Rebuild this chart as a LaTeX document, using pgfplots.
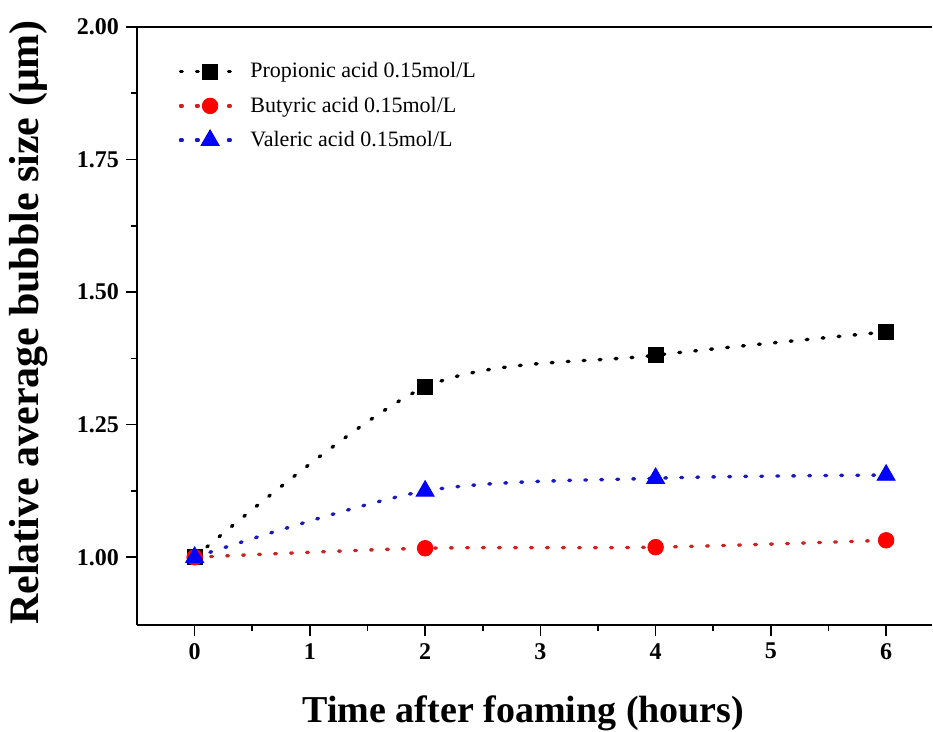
\documentclass[border=0pt]{standalone}
\usepackage{pgfplots}
\pgfplotsset{compat=1.18}
\usepackage{fontspec}
\setmainfont{Liberation Serif}

\definecolor{cred}{RGB}{255,0,0}
\definecolor{credline}{RGB}{205,35,35}
\definecolor{cblue}{RGB}{0,0,255}
\definecolor{cblueline}{RGB}{25,25,190}

% relative average bubble size vs. time after foaming
\pgfplotstableread{
t   s
0   1.000
2   1.321
4   1.381
6   1.425
}\propionic
\pgfplotstableread{
t   s
0   1.000
2   1.017
4   1.019
6   1.032
}\butyric
\pgfplotstableread{
t   s
0   1.000
2   1.125
4   1.149
6   1.155
}\valeric

\begin{document}
\begin{tikzpicture}
\begin{axis}[
  scale only axis,
  width=397.5pt, height=299pt,
  xmin=-0.5, xmax=6.4,
  ymin=0.872, ymax=2.0,
  axis x line=box, axis y line=left,
  x axis line style={-}, y axis line style={-},
  axis line style={line width=0.8pt},
  xtick={0,1,2,3,4,5,6}, minor x tick num=1,
  ytick={1,1.25,1.5,1.75,2}, minor y tick num=1,
  xtick pos=bottom, ytick pos=left,
  tick align=outside,
  major tick length=5.5pt, minor tick length=3pt,
  tick style={line width=0.8pt, black},
  /pgf/number format/assume math mode=true,
  ticklabel style={font=\bfseries\fontsize{12}{14}\selectfont},
  yticklabel style={/pgf/number format/.cd, fixed, fixed zerofill, precision=2},
  xlabel={Time after foaming (hours)},
  ylabel={Relative average bubble size (μm)},
  xlabel style={font=\bfseries\fontsize{19}{22}\selectfont, inner sep=0pt,
    at={(axis description cs:0.486,-0.163)}, anchor=base},
  ylabel style={font=\bfseries\fontsize{21}{24}\selectfont, inner sep=0pt,
    at={(axis description cs:-0.137,0.506)}, anchor=center},
  legend style={draw=none, fill=none,
    at={(axis description cs:0.052,0.948)}, anchor=north west,
    font=\fontsize{11}{13}\selectfont, row sep=4pt,
    inner sep=0pt,
    /tikz/every odd column/.append style={column sep=2.5pt}},
  legend cell align=left,
  legend image code/.code={
    \draw[#1, mark repeat=2, mark phase=2]
      plot coordinates {(0cm,0cm) (0.52cm,0cm) (1.04cm,0cm)};
  },
  every axis plot/.append style={line width=1.7pt, line cap=round,
    dash pattern=on 0.9pt off 7.1pt},
]
\addplot[black, smooth, mark=square*, mark size=3.75pt,
  mark options={solid, fill=black, draw=black, line width=0.4pt}]
  table[x=t, y=s] {\propionic};
\addlegendentry{Propionic acid 0.15mol/L}

\addplot[credline, smooth, mark=*, mark size=3.9pt,
  mark options={solid, fill=cred, draw=cred, line width=0.4pt}]
  table[x=t, y=s] {\butyric};
\addlegendentry{Butyric acid 0.15mol/L}

\addplot[cblueline, smooth, mark=triangle*, mark size=5.2pt,
  mark options={solid, fill=cblue, draw=cblue, line width=0.4pt}]
  table[x=t, y=s] {\valeric};
\addlegendentry{Valeric acid 0.15mol/L}

\coordinate (corner) at (rel axis cs:0,1);
\end{axis}
% margin above the plot frame and room for the y label
\path (corner) ++(-68.5pt,13.5pt) coordinate (margin);
\path (margin) rectangle (corner);
\end{tikzpicture}
\end{document}
